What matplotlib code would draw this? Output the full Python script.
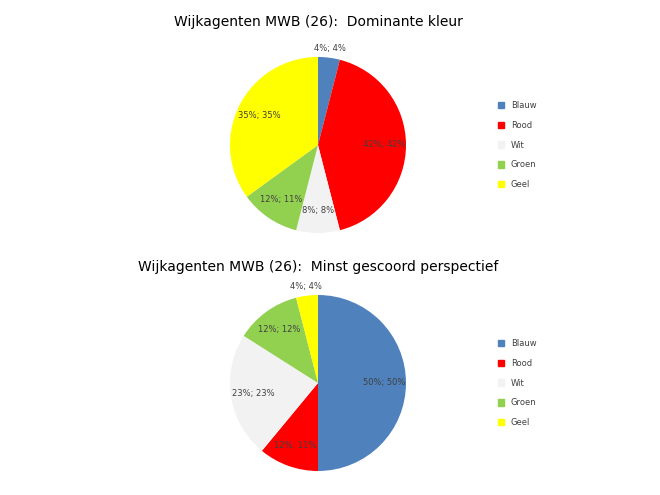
import numpy as np
import matplotlib.pyplot as plt
from matplotlib.patches import Patch

categories = ["Blauw", "Rood", "Wit", "Groen", "Geel"]
colors = ["#4f81bd", "#ff0000", "#f2f2f2", "#92d050", "#ffff00"]

top_values = [4, 42, 8, 11, 35]
top_labels = ["4%; 4%", "42%; 42%", "8%; 8%", "12%; 11%", "35%; 35%"]
bot_values = [50, 11, 23, 12, 4]
bot_labels = ["50%; 50%", "12%; 11%", "23%; 23%", "12%; 12%", "4%; 4%"]

fig = plt.figure(figsize=(6.6, 4.95), dpi=100)
W, H = 660, 495


def draw(cy, values, labels, title, title_y):
    r = 88
    ax = fig.add_axes([(318 - r) / W, 1 - (cy + r) / H, 2 * r / W, 2 * r / H])
    wedges, texts = ax.pie(values, colors=colors, startangle=90, counterclock=False,
                           labels=labels, labeldistance=0.75, frame=False,
                           textprops={"fontsize": 6, "color": "#404040",
                                      "ha": "center", "va": "center"},
                           wedgeprops={"linewidth": 0})
    for w, t, v in zip(wedges, texts, values):
        if v < 6:
            ang = np.deg2rad((w.theta1 + w.theta2) / 2)
            t.set_position((1.1 * np.cos(ang), 1.1 * np.sin(ang)))
    ax.set_xlim(-1, 1)
    ax.set_ylim(-1, 1)
    ax.set_aspect("equal")
    ax.axis("off")
    fig.text(318 / W, 1 - title_y / H, title, ha="center", va="center", fontsize=10)
    handles = [Patch(color=c) for c in colors]
    fig.legend(handles, categories, loc="center left",
               bbox_to_anchor=(490 / W, 1 - cy / H), frameon=False,
               fontsize=6, labelcolor="#404040", handlelength=0.8,
               handleheight=0.8, labelspacing=1.3)


draw(145, top_values, top_labels, "Wijkagenten MWB (26):  Dominante kleur", 22)
draw(383, bot_values, bot_labels, "Wijkagenten MWB (26):  Minst gescoord perspectief", 267)

fig.savefig("out.png", dpi=100)
